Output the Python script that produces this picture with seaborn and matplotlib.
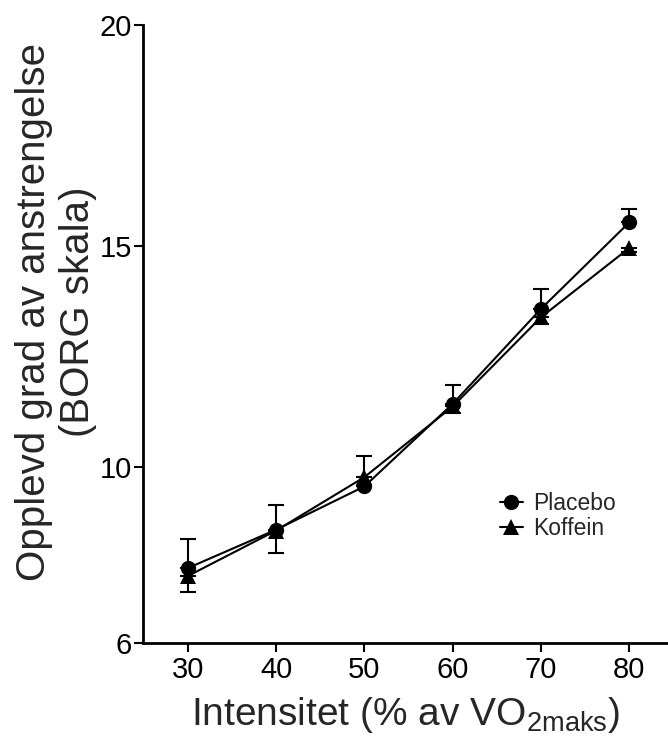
import matplotlib
matplotlib.use("Agg")
import matplotlib.pyplot as plt
import seaborn as sns
import pandas as pd

# Intensitet (% av VO2maks)
INTENSITET = [30, 40, 50, 60, 70, 80]

# BORG-verdier lest av figuren
PLACEBO = [7.70, 8.57, 9.55, 11.42, 13.57, 15.53]
PLACEBO_ERR = [0.65, 0.55, 0.68, 0.42, 0.46, 0.30]  # vises oppover
KOFFEIN = [7.52, 8.55, 9.76, 11.36, 13.38, 14.95]
KOFFEIN_ERR = [0.36, 0.50, 0.20, 0.15, 0.15, 0.10]  # vises nedover

Y_TICKS = [6, 10, 15, 20]


def main() -> None:
    sns.set_theme(style="ticks")
    plt.rcParams["font.family"] = ["Liberation Sans", "DejaVu Sans"]
    plt.rcParams["mathtext.default"] = "regular"

    fig = plt.figure(figsize=(6.68, 7.40), dpi=100)
    ax = fig.add_axes([0.214, 0.131, 0.786, 0.835])

    series = [
        ("Placebo", PLACEBO, PLACEBO_ERR, "o", "upper"),
        ("Koffein", KOFFEIN, KOFFEIN_ERR, "^", "lower"),
    ]
    for name, values, err, marker, side in series:
        df = pd.DataFrame({"x": INTENSITET, "y": values})
        if side == "upper":
            yerr = [[0] * len(err), err]
        else:
            yerr = [err, [0] * len(err)]
        ax.errorbar(df["x"], df["y"], yerr=yerr, fmt="none", ecolor="black",
                    elinewidth=1.5, capsize=6, capthick=1.5, zorder=2)
        sns.lineplot(data=df, x="x", y="y", ax=ax, color="black", linewidth=1.5,
                     marker=marker, markersize=11, markeredgecolor="black",
                     markeredgewidth=0, label=name, zorder=3)

    ax.set_xlim(24.9, 84.4)
    ax.set_ylim(6, 20)
    ax.set_xticks(INTENSITET)
    ax.set_yticks(Y_TICKS)
    ax.tick_params(axis="both", labelsize=21, length=6.5, width=1.5,
                   direction="out", colors="black")
    ax.tick_params(axis="y", pad=1.5)
    ax.tick_params(axis="x", pad=3)

    sns.despine(ax=ax)
    for side in ("left", "bottom"):
        ax.spines[side].set_linewidth(2)
        ax.spines[side].set_color("black")

    ax.set_xlabel("Intensitet (% av VO$_{2maks}$)", fontsize=28, labelpad=8)
    ax.set_ylabel("Opplevd grad av anstrengelse\n(BORG skala)", fontsize=29)
    ax.yaxis.set_label_coords(-0.088, 0.536)

    ax.legend(loc="upper left", bbox_to_anchor=(0.68, 0.245), frameon=False,
              fontsize=16.5, handlelength=1.0, handletextpad=0.45,
              borderpad=0, borderaxespad=0, labelspacing=0.1)

    fig.savefig("out.png", dpi=100, facecolor="white")


if __name__ == "__main__":
    main()
